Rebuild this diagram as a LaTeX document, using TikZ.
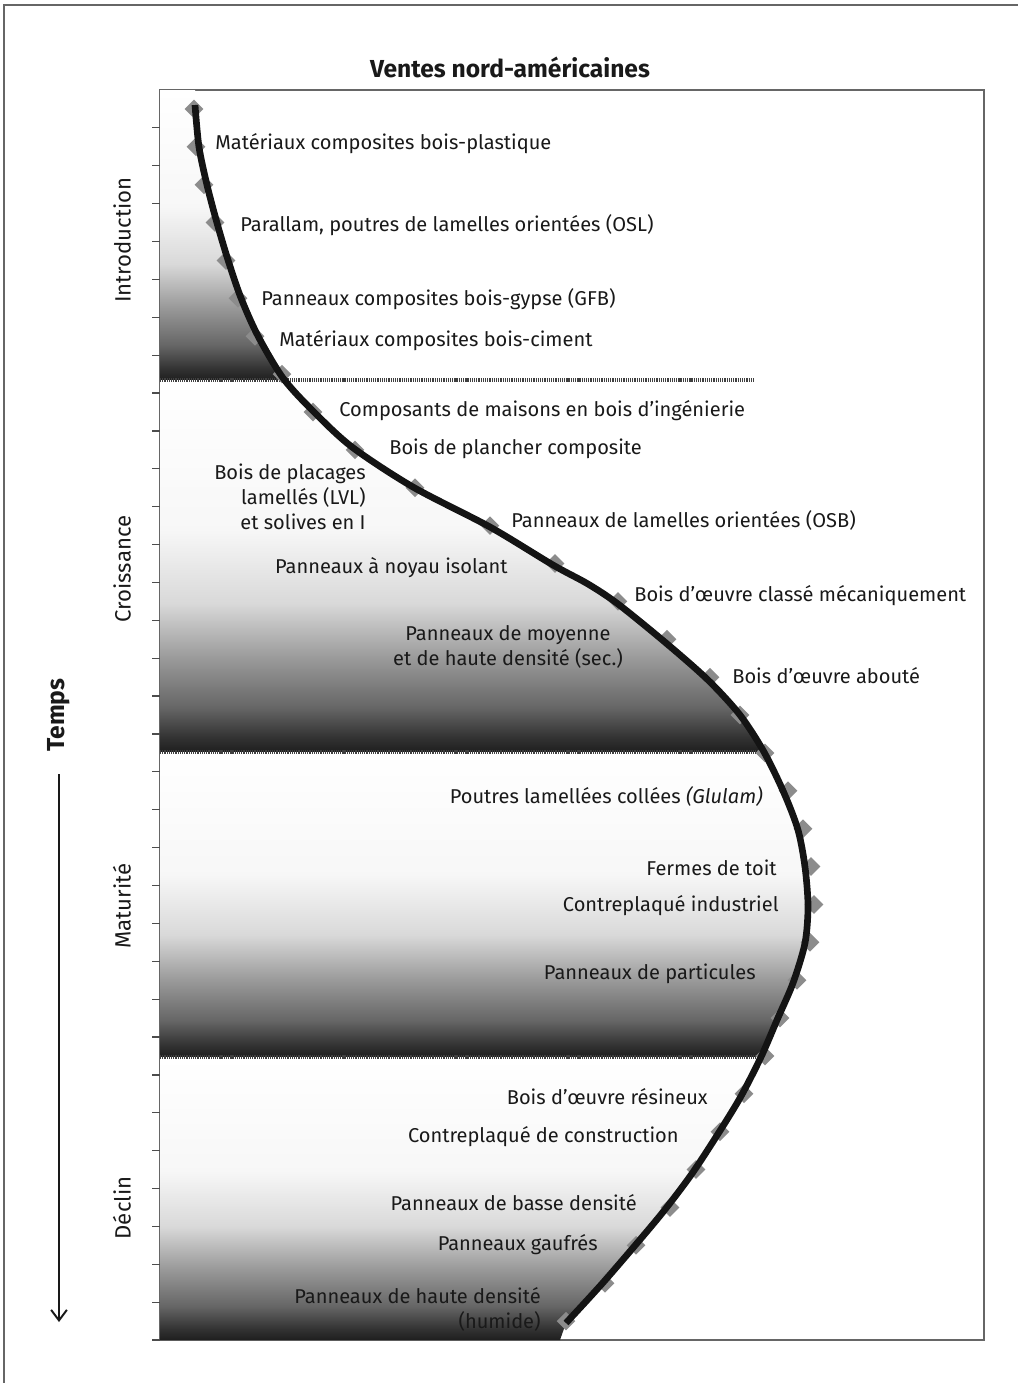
\documentclass[tikz,border=0pt]{standalone}
\usepackage{fontspec}
\setmainfont{Fira Sans}
\usepackage{tikz}
\usetikzlibrary{shapes.geometric}
\usetikzlibrary{arrows.meta}

\pgfdeclareverticalshading{bandshade}{100bp}{color(0bp)=(black!88); color(25bp)=(black!88);
  color(27bp)=(black!80); color(31bp)=(black!60); color(37.5bp)=(black!40);
  color(45bp)=(black!15); color(55bp)=(black!3); color(75bp)=(white); color(100bp)=(white)}

\newcommand{\salescurve}{plot[smooth] coordinates {(195,105) (199,147) (207,185) (217,223)
  (228,260) (241,298) (258,336) (283,378) (313,411) (352,447) (413,487) (490,527)
  (553,565) (588,584) (618,604) (666,643) (708,680) (740,715) (764,752) (784,793)
  (798,830) (805,867) (808,906) (805,943) (793,983) (777,1020) (761,1057) (740,1098)
  (716,1137) (691,1175) (663,1212) (632,1249) (600,1286) (566,1323)}}

\begin{document}
\begin{tikzpicture}[x=0.02cm,y=-0.02cm,
	lbl/.style={font=\fontsize{11.4}{14.2}\selectfont,text=black!90,inner sep=0pt},
	phase/.style={lbl,font=\fontsize{12.6}{15}\selectfont,rotate=90},
	heading/.style={lbl,font=\fontsize{14}{16}\selectfont\bfseries},
	marker/.style={diamond,fill=black!45,inner sep=0pt,minimum size=0.38cm},
	saleline/.style={line width=3.8pt,black!92},
	bandline/.style={line width=2.8pt,black!75,dash pattern=on 0.7pt off 0.55pt},
	frameline/.style={black!60,line width=0.9pt},
	tickline/.style={black!70,line width=0.7pt}]
	\useasboundingbox (0,0) rectangle (1018,1383);

	% outer frame and plot box
	\draw[frameline] (4,1383) -- (4,5) -- (1018,5);
	\draw[frameline] (160,90) rectangle (984,1340);
	\draw[tickline] (152,1340) -- (160,1340);
	\foreach \k in {1,...,32}
		\draw[tickline] (152,{90+37.88*\k}) -- (160,{90+37.88*\k});

	% shaded bands left of the curve
	\begin{scope}
		\clip \salescurve -- (560,1340) -- (160,1340) -- (160,90) -- (195,90) -- cycle;
		\shade[shading=bandshade] (160,90) rectangle (984,380);
		\shade[shading=bandshade] (160,380) rectangle (984,752);
		\shade[shading=bandshade] (160,752) rectangle (984,1057);
		\shade[shading=bandshade] (160,1057) rectangle (984,1340);
	\end{scope}
	\draw[bandline] (160,380) -- (755,380);
	\draw[bandline] (160,752) -- (760,752);
	\draw[bandline] (160,1057) -- (757,1057);

	% markers and curve
	\foreach \x [count=\i] in {194,196,204,215,226,238,255,282,313,355,415,490,555,618,667,
		710,740,765,788,803,811,814,810,797,780,765,744,720,696,670,636,605,566}
		\node[marker] (m\i) at (\x,{90+37.88*(\i-0.5)}) {};
	\draw[saleline] \salescurve;

	% title and phases
	\node[heading] (title) at (510,67) {Ventes nord-américaines};
	\node[phase] (intro) at (122,240) {Introduction};
	\node[phase] (growth) at (122,569) {Croissance};
	\node[phase] (mature) at (122,906) {Maturité};
	\node[phase] (decline) at (122,1208) {Déclin};
	\node[heading,rotate=90] (time) at (59,715) {Temps};
	\coordinate (ttop) at (59,774);
	\coordinate (tbot) at (59,1322);
	\draw[line width=1.1pt,black!90,-{Straight Barb[length=6pt,width=9pt]}] (ttop) -- (tbot);

	% product labels
	\node[lbl,anchor=west] (wpc) at (215,144) {Matériaux composites bois-plastique};
	\node[lbl,anchor=west] (osl) at (240,225) {Parallam, poutres de lamelles orientées (OSL)};
	\node[lbl,anchor=west] (gfb) at (261,299) {Panneaux composites bois-gypse (GFB)};
	\node[lbl,anchor=west] (wcc) at (279,341) {Matériaux composites bois-ciment};
	\node[lbl,anchor=west] (ewp) at (339,411) {Composants de maisons en bois d’ingénierie};
	\node[lbl,anchor=west] (floor) at (389,449) {Bois de plancher composite};
	\node[lbl,anchor=east,align=right] (lvl) at (366,497) {Bois de placages\\lamellés (LVL)\\et solives en I};
	\node[lbl,anchor=west] (osb) at (511,520) {Panneaux de lamelles orientées (OSB)};
	\node[lbl,anchor=east] (sip) at (508,568) {Panneaux à noyau isolant};
	\node[lbl,anchor=west] (msr) at (634,596) {Bois d’œuvre classé mécaniquement};
	\node[lbl,align=center] (mdf) at (508,647) {Panneaux de moyenne\\et de haute densité (sec.)};
	\node[lbl,anchor=west] (fj) at (732,676) {Bois d’œuvre abouté};
	\node[lbl,anchor=east] (glulam) at (763,796) {Poutres lamellées collées \textit{(Glulam)}};
	\node[lbl,anchor=east] (truss) at (777,868) {Fermes de toit};
	\node[lbl,anchor=east] (indply) at (779,906) {Contreplaqué industriel};
	\node[lbl,anchor=east] (pb) at (756,974) {Panneaux de particules};
	\node[lbl,anchor=east] (soft) at (708,1097) {Bois d’œuvre résineux};
	\node[lbl,anchor=east] (conply) at (679,1137) {Contreplaqué de construction};
	\node[lbl,anchor=east] (lbd) at (637,1203) {Panneaux de basse densité};
	\node[lbl,anchor=east] (wafer) at (598,1245) {Panneaux gaufrés};
	\node[lbl,anchor=east,align=right] (hbd) at (541,1309) {Panneaux de haute densité\\(humide)};
\end{tikzpicture}
\end{document}
